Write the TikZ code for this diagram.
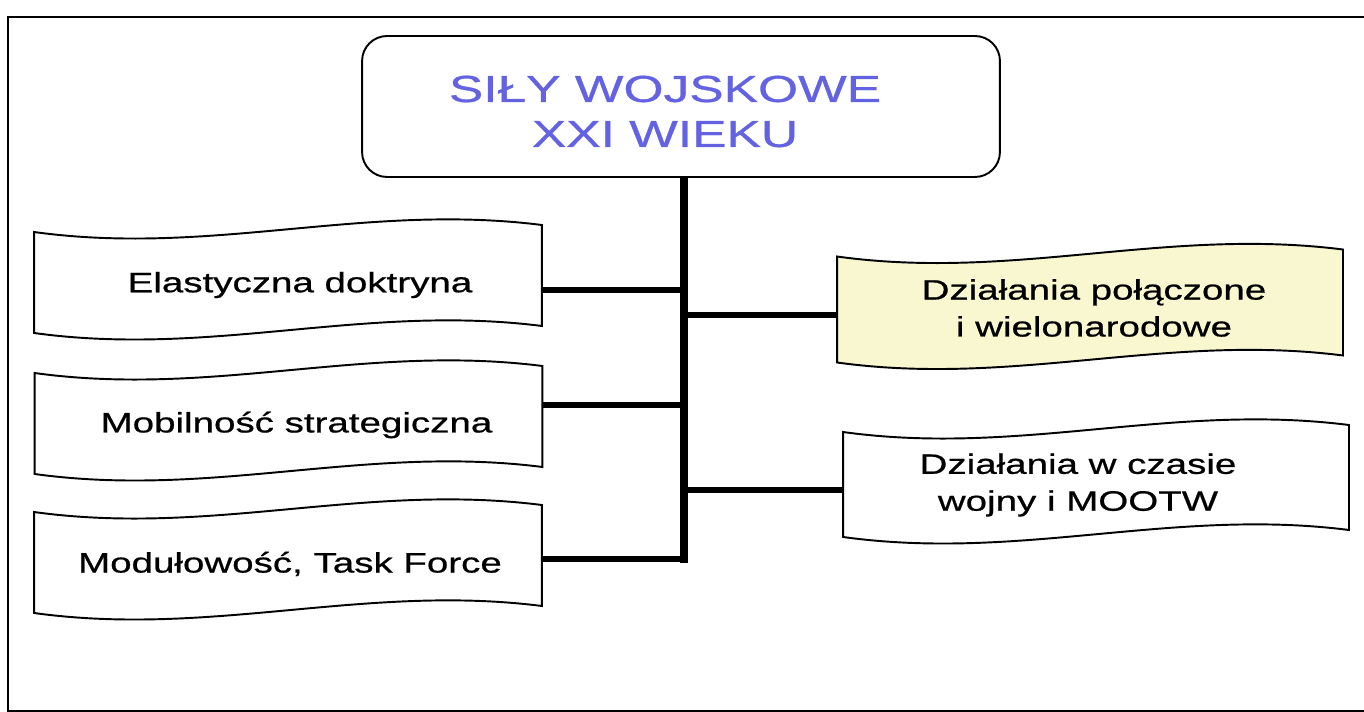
\documentclass[tikz,border=0pt]{standalone}
\usepackage{fontspec}
\setmainfont{Liberation Sans}[FakeStretch=1.37,FakeBold=0.7]
\usetikzlibrary{calc}
\pgfdeclarelayer{background}
\pgfsetlayers{background,main}
\definecolor{titleblue}{HTML}{6262E2}
\definecolor{paleyellow}{HTML}{F9F7CF}
% wavy document outline round a named node
\newcommand{\wavedoc}[2][white]{%
  \begin{pgfonlayer}{background}
  \path (#2.north west) coordinate (nw) (#2.north east) coordinate (ne)
        (#2.south west) coordinate (sw) (#2.south east) coordinate (se);
  \draw[doc,fill=#1] ($(nw)+(0,3.5)$)
    .. controls ($(nw)!.35!(ne)+(0,28)$) and ($(nw)!.65!(ne)+(0,-26)$) .. ($(ne)+(0,-3.5)$)
    -- ($(se)+(0,-3.5)$)
    .. controls ($(sw)!.65!(se)+(0,-26)$) and ($(sw)!.35!(se)+(0,28)$) .. ($(sw)+(0,3.5)$)
    -- cycle;
  \end{pgfonlayer}}

\begin{document}
\begin{tikzpicture}[x=0.02cm,y=-0.02cm,font=\fontsize{16}{21}\selectfont,
  doc/.style={draw,line width=1.1pt},
  txt/.style={align=center},
  box/.style={outer sep=0pt,minimum width=10.16cm,minimum height=2.02cm},
  rbox/.style={box,minimum width=10.12cm,minimum height=2.12cm},
  headbox/.style={draw,fill=white,line width=1.1pt,rounded corners=0.5cm,outer sep=0pt,
    minimum width=12.76cm,minimum height=2.82cm},
  headtxt/.style={align=center,text=titleblue,font=\fontsize{21.4}{25.6}\selectfont},
  branch/.style={line width=3.4pt},
  trunk/.style={line width=5pt}]
\useasboundingbox (0,0) rectangle (1364,712);
\draw[line width=1.4pt] (1364,17) -- (8,17) -- (8,711) -- (1364,711);

\node[headbox,label={[headtxt,xshift=-0.32cm,yshift=-0.1cm]center:SIŁY WOJSKOWE\\XXI WIEKU}] (head) at (681,106.5) {};

\node[box,label={[txt,xshift=0.24cm,yshift=-0.12cm]center:Elastyczna doktryna}] (elast) at (288,279) {};
\node[box,label={[txt,xshift=0.16cm,yshift=-0.1cm]center:Mobilność strategiczna}] (mobil) at (288.5,420) {};
\node[box,label={[txt,xshift=0.04cm,yshift=-0.1cm]center:Modułowość, Task Force}] (modul) at (288,559) {};
\node[rbox,label={[txt,xshift=0.08cm,yshift=-0.04cm]center:Działania połączone\\i wielonarodowe}] (joint) at (1090,306) {};
\node[rbox,minimum height=2.1cm,label={[txt,xshift=-0.36cm,yshift=-0.08cm]center:Działania w czasie\\wojny i MOOTW}] (mootw) at (1096,481) {};
\wavedoc{elast}
\wavedoc{mobil}
\wavedoc{modul}
\wavedoc[paleyellow]{joint}
\wavedoc{mootw}

\coordinate (tA) at (684,290);
\coordinate (tB) at (684,405);
\coordinate (tC) at (684,559);
\coordinate (tD) at (684,315);
\coordinate (tE) at (684,490);
\coordinate (tEnd) at (684,563);
\draw[trunk] (head.south -| tEnd) -- (tEnd);
\draw[branch] (elast.east |- tA) -- (tA);
\draw[branch] (mobil.east |- tB) -- (tB);
\draw[branch] (modul.east |- tC) -- (tC);
\draw[branch] (tD) -- (joint.west |- tD);
\draw[branch] (tE) -- (mootw.west |- tE);
\end{tikzpicture}
\end{document}
